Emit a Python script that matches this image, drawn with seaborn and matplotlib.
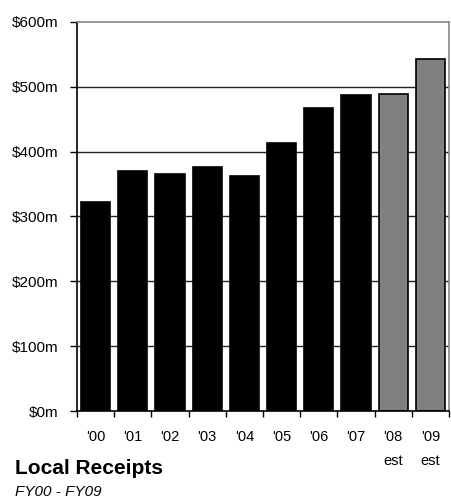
import matplotlib
matplotlib.use("Agg")
import matplotlib.pyplot as plt
import seaborn as sns
import pandas as pd
import numpy as np

years = ["'00", "'01", "'02", "'03", "'04", "'05", "'06", "'07", "'08\nest", "'09\nest"]
values = [322, 370, 366, 377, 363, 414, 467, 487, 489, 543]
kinds = ["actual"] * 8 + ["estimate"] * 2
yticks = [0, 100, 200, 300, 400, 500, 600]
ytick_labels = ["$0m", "$100m", "$200m", "$300m", "$400m", "$500m", "$600m"]

sns.set_theme(style="white")
plt.rcParams['font.family'] = ['Liberation Sans', 'DejaVu Sans']
plt.rcParams['text.color'] = 'black'
plt.rcParams['xtick.color'] = 'black'
plt.rcParams['ytick.color'] = 'black'

df = pd.DataFrame({"year": years, "value": values, "kind": kinds})

fig = plt.figure(figsize=(4.51, 5.04), dpi=100)
ax = fig.add_axes([77/451, 1 - 411/504, (449-77)/451, (411-22)/504])

sns.barplot(data=df, x="year", y="value", hue="kind",
            palette={"actual": "#000000", "estimate": "#808080"},
            dodge=False, width=0.79, edgecolor="black", linewidth=1.2,
            legend=False, ax=ax)
for p in ax.patches:
    p.set_zorder(3)

ax.set_ylim(0, 600)
ax.set_xlim(-0.5, len(years) - 0.5)
ax.set_yticks(yticks)
ax.set_yticklabels(ytick_labels, fontsize=11)
for y in yticks[1:-1]:
    ax.axhline(y, color="#222222", linewidth=1.0, zorder=1)

ax.set_xticks(range(len(years)))
ax.set_xticklabels(years, fontsize=10.5, linespacing=1.85, va="top")
ax.set_xticks(np.arange(-0.5, len(years)), minor=True)
ax.tick_params(axis="x", which="major", length=0, pad=14)
ax.tick_params(axis="x", which="minor", length=4, width=1, color="black", direction="out", bottom=True)
ax.tick_params(axis="y", length=5, width=1, color="black", direction="out", left=True, pad=8)
ax.set_xlabel("")
ax.set_ylabel("")

for s in ["left", "bottom"]:
    ax.spines[s].set_color("black")
    ax.spines[s].set_linewidth(1.2)
for s in ["top", "right"]:
    ax.spines[s].set_color("#888888")
    ax.spines[s].set_linewidth(1.2)
ax.spines["bottom"].set_zorder(5)

fig.text(15/451, 1 - 469/504, "Local Receipts", fontsize=15, fontweight="bold", va="center", ha="left")
fig.text(15/451, 1 - 492/504, "FY00 - FY09", fontsize=11, fontstyle="italic", va="center", ha="left")

fig.savefig("out.png", dpi=100)
